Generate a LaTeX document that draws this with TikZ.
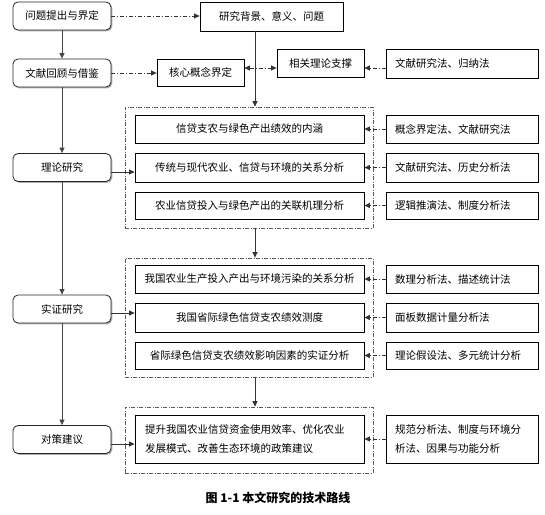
\documentclass[tikz,border=0pt]{standalone}
\usepackage{fontspec}
\setmainfont{Noto Sans CJK SC}
\usetikzlibrary{arrows.meta,shadows}
\newcommand\myfs{\fontsize{10.5}{13}\selectfont}
\begin{document}
\begin{tikzpicture}[x=1pt,y=-1pt,
  shad/.style={drop shadow={shadow xshift=1.3pt,shadow yshift=-1.3pt,fill=gray!65,opacity=1}},
  lbox/.style={draw=black!85,line width=0.8pt,rounded corners=5pt,fill=white,
    minimum width=98pt,minimum height=28pt,inner sep=0pt,font=\myfs,shad},
  ibox/.style={draw=black,line width=0.8pt,fill=white,minimum width=229pt,
    minimum height=28pt,inner sep=0pt,font=\myfs,shad},
  mbox/.style={draw=black,line width=0.8pt,fill=white,text width=134pt,inner xsep=9pt,
    inner ysep=0pt,minimum height=28pt,align=left,font=\myfs,shad},
  sbox/.style={draw=black,line width=0.8pt,fill=white,inner sep=0pt,font=\myfs,shad},
  frame/.style={draw=gray!70!black,line width=0.8pt,
    dash pattern=on 4pt off 1.5pt on 1pt off 1.5pt,inner sep=0pt},
  varr/.style={draw=gray!55!black,line width=1pt,-{Triangle[length=5.5pt,width=5pt]}},
  darr/.style={draw=black!80,line width=0.7pt,dash pattern=on 4pt off 2pt on 1pt off 2pt,
    -{Triangle[length=5.5pt,width=5pt]}},
  sarr/.style={draw=black!80,line width=0.8pt,-{Triangle[length=5.5pt,width=5pt]}}
]
\useasboundingbox (0,0) rectangle (545,514);

% frames
\node[frame,minimum width=248pt,minimum height=121pt] (f1) at (249,167.5) {};
\node[frame,minimum width=248pt,minimum height=119pt] (f2) at (249,317.5) {};
\node[frame,minimum width=248pt,minimum height=66pt] (f3) at (249,440) {};

% left column
\node[lbox] (q) at (62,16) {问题提出与界定};
\node[lbox] (w) at (62,73) {文献回顾与借鉴};
\node[lbox] (l) at (62,167.5) {理论研究};
\node[lbox] (s) at (62,309) {实证研究};
\node[lbox] (d) at (62,439.5) {对策建议};

% top boxes
\node[sbox,minimum width=143pt,minimum height=29pt] (bg) at (271.5,16.5) {研究背景、意义、问题};
\node[sbox,minimum width=87pt,minimum height=27pt] (hx) at (200.5,72.5) {核心概念界定};
\node[sbox,minimum width=87pt,minimum height=28pt] (xg) at (320.5,63) {相关理论支撑};
\node[mbox,minimum height=29pt] (m0) at (462,63.5) {文献研究法、归纳法};

% theory
\node[ibox] (t1) at (249.5,129) {信贷支农与绿色产出绩效的内涵};
\node[ibox,minimum height=29pt] (t2) at (249.5,167.5) {传统与现代农业、信贷与环境的关系分析};
\node[ibox,minimum height=27pt] (t3) at (249.5,205.5) {农业信贷投入与绿色产出的关联机理分析};
\node[mbox] (m1) at (462,129) {概念界定法、文献研究法};
\node[mbox,minimum height=29pt] (m2) at (462,167.5) {文献研究法、历史分析法};
\node[mbox,minimum height=27pt] (m3) at (462,205.5) {逻辑推演法、制度分析法};

% empirical
\node[ibox] (e1) at (249.5,279) {我国农业生产投入产出与环境污染的关系分析};
\node[ibox,minimum height=29pt] (e2) at (249.5,317.5) {我国省际绿色信贷支农绩效测度};
\node[ibox,minimum height=27pt] (e3) at (249.5,355.5) {省际绿色信贷支农绩效影响因素的实证分析};
\node[mbox] (n1) at (462,279) {数理分析法、描述统计法};
\node[mbox,minimum height=29pt] (n2) at (462,317.5) {面板数据计量分析法};
\node[mbox,minimum height=27pt] (n3) at (462,355.5) {理论假设法、多元统计分析};

% policy
\node[ibox,minimum height=48pt,text width=209pt,inner xsep=10pt,align=left,
  font=\fontsize{10.5}{19}\selectfont] (p1) at (249.5,439)
  {提升我国农业信贷资金使用效率、优化农业\\发展模式、改善生态环境的政策建议};
\node[mbox,minimum height=48pt,font=\fontsize{10.5}{19}\selectfont] (p2) at (462,439)
  {规范分析法、制度与环境分\\析法、因果与功能分析};

% caption
\node[font=\bfseries\fontsize{12}{14}\selectfont] (cap) at (278,498) {图 1-1 本文研究的技术路线};

% left vertical arrows
\draw[varr] (q) -- (w);
\draw[varr] (w) -- (l);
\draw[varr] (l) -- (s);
\draw[varr] (s) -- (d);

% left to right
\draw[darr] (q.east) -- (bg.west |- q.east);
\draw[darr] (w.east) -- (hx.west |- w.east);
\draw[darr,{Triangle[length=5.5pt,width=5pt]}-{Triangle[length=5.5pt,width=5pt]}]
  (hx.east |- 0,68) -- (xg.west |- 0,68);
\draw[darr] (m0.west |- 0,68) -- (xg.east |- 0,68);

% center column arrows
\coordinate (cx) at (255,0);
\draw[sarr] (bg.south -| cx) -- (f1.north -| cx);
\draw[sarr] (f1.south -| cx) -- (f2.north -| cx);
\draw[sarr] (f2.south -| cx) -- (f3.north -| cx);

% stage arrows
\draw[sarr] (l.east |- 0,172) -- (t2.west |- 0,172);
\draw[sarr] (s.east |- 0,313) -- (e2.west |- 0,313);
\draw[sarr] (d.east |- 0,444) -- (p1.west |- 0,444);

% method arrows
\draw[darr] (m1) -- (t1);
\draw[darr] (m2) -- (t2);
\draw[darr] (m3) -- (t3);
\draw[darr] (n1) -- (e1);
\draw[darr] (n2) -- (e2);
\draw[darr] (n3) -- (e3);
\draw[darr] (p2) -- (p1);
\end{tikzpicture}
\end{document}
